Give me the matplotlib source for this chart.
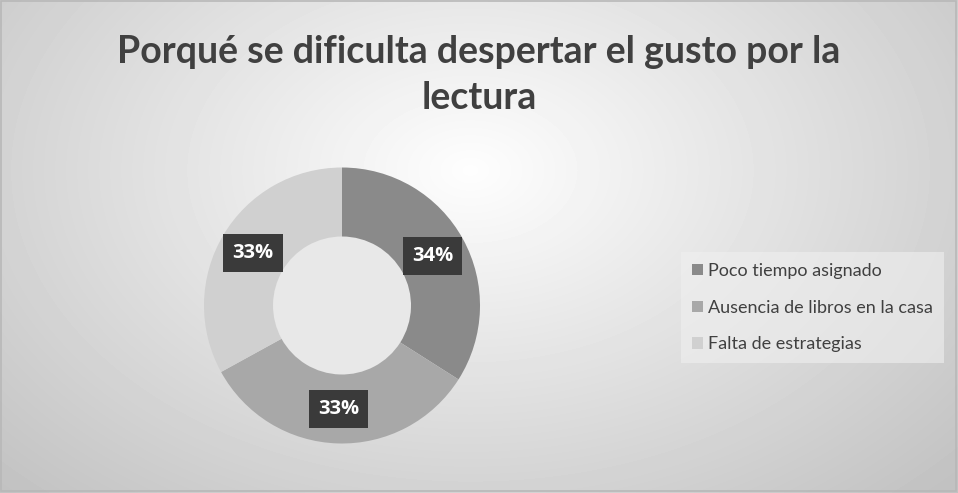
import matplotlib.pyplot as plt
import numpy as np

# Data
categories = ["Poco tiempo asignado", "Ausencia de libros en la casa", "Falta de estrategias"]
values = [34, 33, 33]
pct_labels = ["34%", "33%", "33%"]
title = "Porqué se dificulta despertar el gusto por la\nlectura"

colors = ["#8a8a8a", "#a8a8a8", "#d0d0d0"]

W, H = 958, 493
fig = plt.figure(figsize=(W / 100, H / 100), dpi=100)

# radial gradient background
bg = fig.add_axes([0, 0, 1, 1])
yy, xx = np.mgrid[0:H, 0:W]
d = np.sqrt(((xx - 470) / 620.0) ** 2 + ((yy - 170) / 420.0) ** 2)
shade = np.clip(0.995 - 0.22 * d, 0.76, 1.0)
bg.imshow(shade, cmap="gray", vmin=0, vmax=1, extent=[0, W, H, 0], aspect="auto")
bg.set_xlim(0, W)
bg.set_ylim(H, 0)
bg.axis("off")
bg.add_patch(plt.Rectangle((1, 1), W - 3, H - 3, fill=False, edgecolor="#b8b8b8", linewidth=1.2))

# donut
cx, cy, r_out = 342, 305.5, 138
ax = fig.add_axes([(cx - r_out) / W, (H - cy - r_out) / H, 2 * r_out / W, 2 * r_out / H])
wedges, _ = ax.pie(values, colors=colors, startangle=90, counterclock=False,
                   radius=1.0, wedgeprops=dict(width=0.5, edgecolor="none"))
ax.set_xlim(-1, 1)
ax.set_ylim(-1, 1)
ax.set_aspect("equal")

# inner hole shading
hole = plt.Circle((0, 0), 0.5, color="#e8e8e8", zorder=0)
ax.add_patch(hole)

# percentage labels at mid radius
start = 90
total = sum(values)
for v, lab in zip(values, pct_labels):
    ang = start - v / total * 360 / 2
    start -= v / total * 360
    r = 0.75
    x, y = r * np.cos(np.radians(ang)), r * np.sin(np.radians(ang))
    ax.text(x, y, lab, ha="center", va="center", color="white", fontsize=14.5,
            fontweight="bold", family="Open Sans",
            bbox=dict(boxstyle="square,pad=0.45", facecolor="#3a3a3a", edgecolor="none"))

# title
fig.text(0.5, 1 - 75 / H, title, ha="center", va="center", fontsize=27,
         fontweight="bold", family="Lato", color="#404040", linespacing=1.42)

# legend
leg = fig.legend(wedges, categories, loc="upper left",
                 bbox_to_anchor=(681 / W, 1 - 252 / H), frameon=True,
                 prop=dict(family="Lato", size=13), labelcolor="#404040",
                 handlelength=0.6, handleheight=0.6, handletextpad=0.3,
                 labelspacing=1.15, borderpad=0.6, borderaxespad=0, fancybox=False)
leg.get_frame().set_facecolor("#f0f0f0")
leg.get_frame().set_alpha(0.6)
leg.get_frame().set_edgecolor("none")

fig.savefig("out.png", dpi=100)
